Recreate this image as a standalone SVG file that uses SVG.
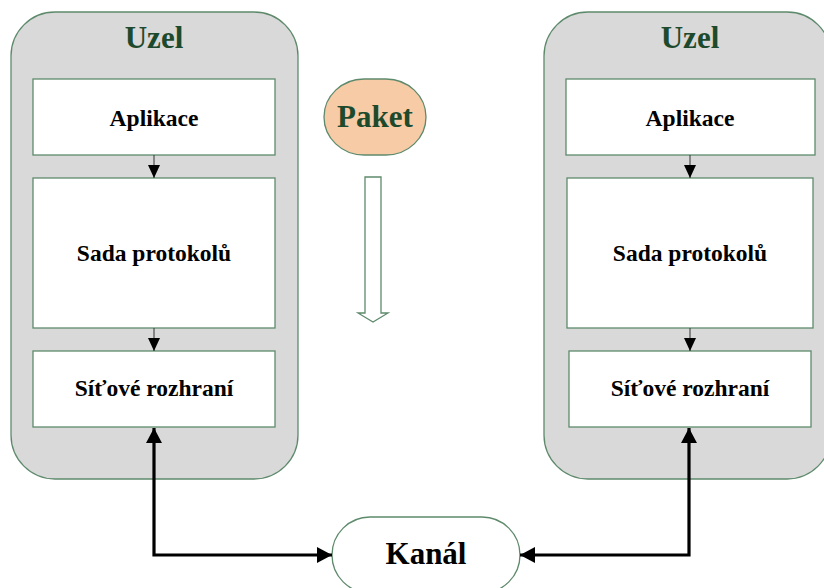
<svg xmlns="http://www.w3.org/2000/svg" width="824" height="588" viewBox="0 0 824 588">
<style>
.outer{fill:#d9d9d9;stroke:#5e8a6c;stroke-width:1.3}
.box{fill:#ffffff;stroke:#5e8a6c;stroke-width:1.3}
.t{font-family:"Liberation Serif","Times New Roman",serif;font-weight:bold;text-anchor:middle}
.g{fill:#1d4a2c;font-size:31px}
.b{fill:#000;font-size:23.5px}
.thin{stroke:#333;stroke-width:1;fill:none}
.thick{stroke:#000;stroke-width:3.2;fill:none}
</style>
<defs>
<marker id="sa" markerUnits="userSpaceOnUse" markerWidth="14" markerHeight="12" refX="13" refY="6" orient="auto">
<path d="M0,0 L13,6 L0,12 Z" fill="#000"/>
</marker>
<marker id="ba" markerUnits="userSpaceOnUse" markerWidth="16" markerHeight="16" refX="15" refY="8" orient="auto-start-reverse">
<path d="M0,0 L15,8 L0,16 Z" fill="#000"/>
</marker>
</defs>
<g id="uzel-left">
<rect class="outer" x="11" y="12" width="287" height="467" rx="44" ry="44"/>
<text class="t g" x="154" y="48">Uzel</text>
</g>
<g id="aplikace-left">
<rect class="box" x="33" y="79" width="242" height="76"/>
<text class="t b" x="154" y="126">Aplikace</text>
</g>
<g id="sada-left">
<rect class="box" x="33" y="178" width="242" height="150"/>
<text class="t b" x="154" y="261">Sada protokolů</text>
</g>
<g id="sit-left">
<rect class="box" x="33" y="351" width="242" height="76"/>
<text class="t b" x="154" y="396">Síťové rozhraní</text>
</g>
<g id="uzel-right">
<rect class="outer" x="544" y="12" width="287" height="467" rx="44" ry="44"/>
<text class="t g" x="690" y="48">Uzel</text>
</g>
<g id="aplikace-right">
<rect class="box" x="566" y="79" width="249" height="76"/>
<text class="t b" x="690" y="126">Aplikace</text>
</g>
<g id="sada-right">
<rect class="box" x="567" y="178" width="246" height="150"/>
<text class="t b" x="690" y="261">Sada protokolů</text>
</g>
<g id="sit-right">
<rect class="box" x="569" y="351" width="242" height="76"/>
<text class="t b" x="690" y="396">Síťové rozhraní</text>
</g>
<g id="paket">
<rect x="324" y="79" width="102" height="76" rx="40" ry="38" fill="#f8cba7" stroke="#5e8a6c" stroke-width="1.3"/>
<text class="t g" x="375" y="127">Paket</text>
</g>
<g id="paket-arrow">
<path d="M365,177 L381,177 L381,313 L388,313 L373,322 L358,313 L365,313 Z" fill="#fff" stroke="#5e8a6c" stroke-width="1.3"/>
</g>
<g id="kanal">
<rect x="332" y="517" width="188" height="76" rx="38" ry="38" fill="#fff" stroke="#5e8a6c" stroke-width="1.3"/>
<text class="t" x="426" y="564" style="font-size:31px;fill:#000">Kanál</text>
</g>
<g id="connectors">
<line class="thin" x1="154" y1="155" x2="154" y2="178" marker-end="url(#sa)"/>
<line class="thin" x1="154" y1="328" x2="154" y2="351" marker-end="url(#sa)"/>
<line class="thin" x1="690" y1="155" x2="690" y2="178" marker-end="url(#sa)"/>
<line class="thin" x1="690" y1="328" x2="690" y2="351" marker-end="url(#sa)"/>
<path class="thick" d="M154,428 L154,555 L332,555" marker-start="url(#ba)" marker-end="url(#ba)"/>
<path class="thick" d="M520,555 L689,555 L689,428" marker-start="url(#ba)" marker-end="url(#ba)"/>
</g>
</svg>
